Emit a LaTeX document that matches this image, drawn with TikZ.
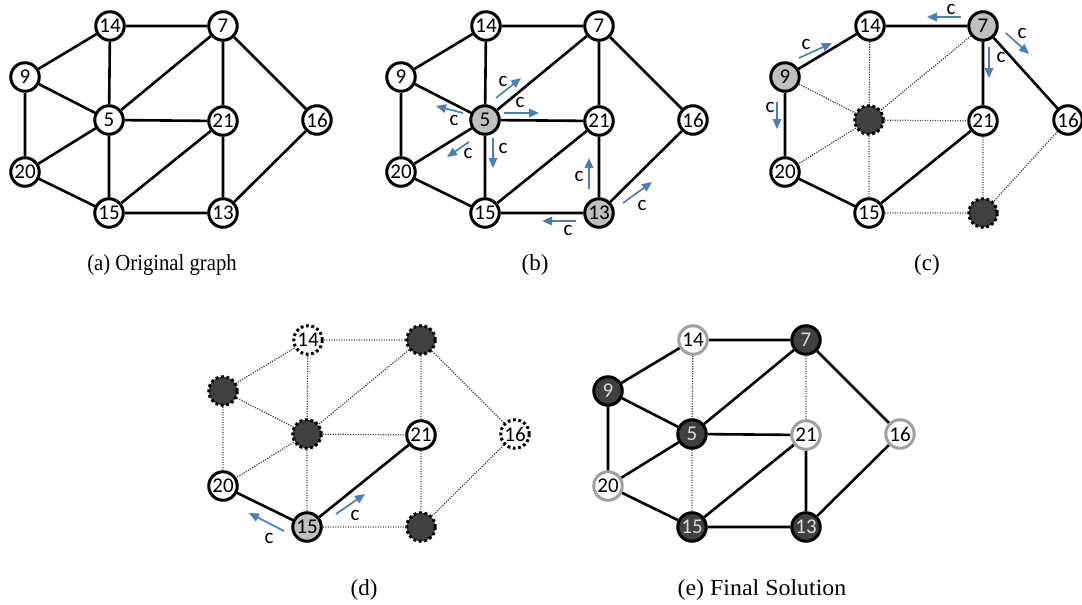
\documentclass[tikz,border=0pt]{standalone}
\usepackage{fontspec}
\setmainfont{Liberation Serif}
\newfontfamily\calib{Carlito}
\usetikzlibrary{arrows.meta}
\definecolor{selgray}{HTML}{BFBFBF}
\definecolor{darkn}{HTML}{404040}
\definecolor{arrblue}{HTML}{4A7EBB}
\definecolor{lightrim}{HTML}{A0A0A0}
\definecolor{lighttext}{HTML}{D9D9D9}
\tikzset{
  v/.style={circle,draw=black,line width=3pt,minimum size=28.5pt,inner sep=0pt,fill=white,
            font=\calib\fontsize{21}{21}\selectfont},
  sel/.style={v,fill=selgray},
  gone/.style={v,fill=darkn,dash pattern=on 2.8pt off 2.6pt},
  dotv/.style={v,dash pattern=on 2.8pt off 2.6pt},
  fin/.style={v,fill=darkn,text=lighttext},
  lite/.style={v,draw=lightrim},
  e/.style={line width=2.6pt,black},
  de/.style={line width=1.2pt,black!75,dash pattern=on 1.2pt off 1.3pt},
  ar/.style={line width=1.7pt,arrblue,-{Triangle[length=10pt,width=8.5pt]}},
  cl/.style={font=\calib\fontsize{21}{21}\selectfont,inner sep=0pt},
  captext/.style={font=\fontsize{23}{23}\selectfont,inner sep=0pt}
}
\begin{document}
\begin{tikzpicture}[x=1pt,y=-1pt]
\useasboundingbox (0,0) rectangle (1082,605);
% ---------- (a)
\begin{scope}
\node[v] (a14) at (110,26) {14};
\node[v] (a7) at (223,26) {7};
\node[v] (a9) at (25,77) {9};
\node[v] (a5) at (109,120) {5};
\node[v] (a21) at (223,121) {21};
\node[v] (a16) at (317,120) {16};
\node[v] (a20) at (25,172) {20};
\node[v] (a15) at (109,213) {15};
\node[v] (a13) at (223,213) {13};
\draw[e] (a14)--(a7) (a14)--(a9) (a14)--(a5) (a9)--(a5) (a9)--(a20) (a7)--(a5) (a7)--(a21) (a7)--(a16)
  (a5)--(a21) (a5)--(a20) (a5)--(a15) (a20)--(a15) (a15)--(a21) (a15)--(a13) (a21)--(a13) (a16)--(a13);
\end{scope}
\node[captext,xscale=0.9] (capa) at (162,265) {(a) Original graph};
% ---------- (b)
\begin{scope}[shift={(376,0)}]
\node[v] (b14) at (110,26) {14};
\node[v] (b7) at (223,26) {7};
\node[v] (b9) at (25,77) {9};
\node[sel] (b5) at (109,120) {5};
\node[v] (b21) at (223,121) {21};
\node[v] (b16) at (317,120) {16};
\node[v] (b20) at (25,172) {20};
\node[v] (b15) at (109,213) {15};
\node[sel] (b13) at (223,213) {13};
\draw[e] (b14)--(b7) (b14)--(b9) (b14)--(b5) (b9)--(b5) (b9)--(b20) (b7)--(b5) (b7)--(b21) (b7)--(b16)
  (b5)--(b21) (b5)--(b20) (b5)--(b15) (b20)--(b15) (b15)--(b21) (b15)--(b13) (b21)--(b13) (b16)--(b13);
\end{scope}
\draw[ar] (496,98)--(521,78);  \node[cl] at (503,81) {c};
\draw[ar] (504,113)--(539,113); \node[cl] at (520,102) {c};
\draw[ar] (463,113)--(436,106); \node[cl] at (454,120) {c};
\draw[ar] (469,142)--(447,157); \node[cl] at (468,153) {c};
\draw[ar] (493,138)--(493,168); \node[cl] at (503,148) {c};
\draw[ar] (589,189)--(589,158); \node[cl] at (579,176) {c};
\draw[ar] (623,203)--(652,182); \node[cl] at (642,205) {c};
\draw[ar] (576,221)--(542,221); \node[cl] at (568,230) {c};
\node[captext] (capb) at (535,265) {(b)};
% ---------- (c)
\begin{scope}[shift={(760,0)}]
\node[v] (c14) at (110,26) {14};
\node[sel] (c7) at (223,26) {7};
\node[sel] (c9) at (25,77) {9};
\node[gone] (c5) at (109,120) {};
\node[v] (c21) at (223,121) {21};
\node[v] (c16) at (308,120) {16};
\node[v] (c20) at (25,172) {20};
\node[v] (c15) at (109,213) {15};
\node[gone] (c13) at (223,213) {};
\draw[e] (c14)--(c7) (c14)--(c9) (c9)--(c20) (c7)--(c21) (c7)--(c16) (c20)--(c15) (c15)--(c21);
\draw[de] (c14)--(c5) (c9)--(c5) (c7)--(c5) (c5)--(c21) (c5)--(c20) (c5)--(c15) (c15)--(c13) (c21)--(c13) (c16)--(c13);
\end{scope}
\draw[ar] (961,17)--(927,17);   \node[cl] at (951,9) {c};
\draw[ar] (799,58)--(832,43);   \node[cl] at (806,44) {c};
\draw[ar] (777,102)--(777,129); \node[cl] at (770,107) {c};
\draw[ar] (989,47)--(989,78);   \node[cl] at (1001,57) {c};
\draw[ar] (1006,33)--(1029,54); \node[cl] at (1022,33) {c};
\node[captext] (capc) at (927,265) {(c)};
% ---------- (d)
\begin{scope}[shift={(198,314)}]
\node[dotv] (d14) at (110,26) {14};
\node[gone] (d7) at (223,26) {};
\node[gone] (d9) at (25,77) {};
\node[gone] (d5) at (109,120) {};
\node[v] (d21) at (223,121) {21};
\node[dotv] (d16) at (317,120) {16};
\node[v] (d20) at (25,172) {20};
\node[sel] (d15) at (109,213) {15};
\node[gone] (d13) at (223,213) {};
\draw[e] (d20)--(d15) (d15)--(d21);
\draw[de] (d14)--(d7) (d14)--(d9) (d14)--(d5) (d9)--(d5) (d9)--(d20) (d7)--(d5) (d7)--(d21) (d7)--(d16)
  (d5)--(d21) (d5)--(d20) (d5)--(d15) (d15)--(d13) (d21)--(d13) (d16)--(d13);
\end{scope}
\draw[ar] (336,514)--(365,494); \node[cl] at (355,515) {c};
\draw[ar] (284,531)--(249,513); \node[cl] at (269,538) {c};
\node[captext] (capd) at (364,590) {(d)};
% ---------- (e)
\begin{scope}[shift={(583,314)}]
\node[lite] (e14) at (110,26) {14};
\node[fin] (e7) at (223,26) {7};
\node[fin] (e9) at (25,77) {9};
\node[fin] (e5) at (109,120) {5};
\node[lite] (e21) at (223,121) {21};
\node[lite] (e16) at (317,120) {16};
\node[lite] (e20) at (25,172) {20};
\node[fin] (e15) at (109,213) {15};
\node[fin] (e13) at (223,213) {13};
\draw[e] (e14)--(e7) (e14)--(e9) (e9)--(e5) (e9)--(e20) (e7)--(e5) (e7)--(e16)
  (e5)--(e21) (e5)--(e20) (e20)--(e15) (e15)--(e21) (e15)--(e13) (e21)--(e13) (e16)--(e13);
\draw[de] (e14)--(e5) (e7)--(e21) (e5)--(e15);
\end{scope}
\node[captext,xscale=1.04] (cape) at (762,590) {(e) Final Solution};
\end{tikzpicture}
\end{document}
